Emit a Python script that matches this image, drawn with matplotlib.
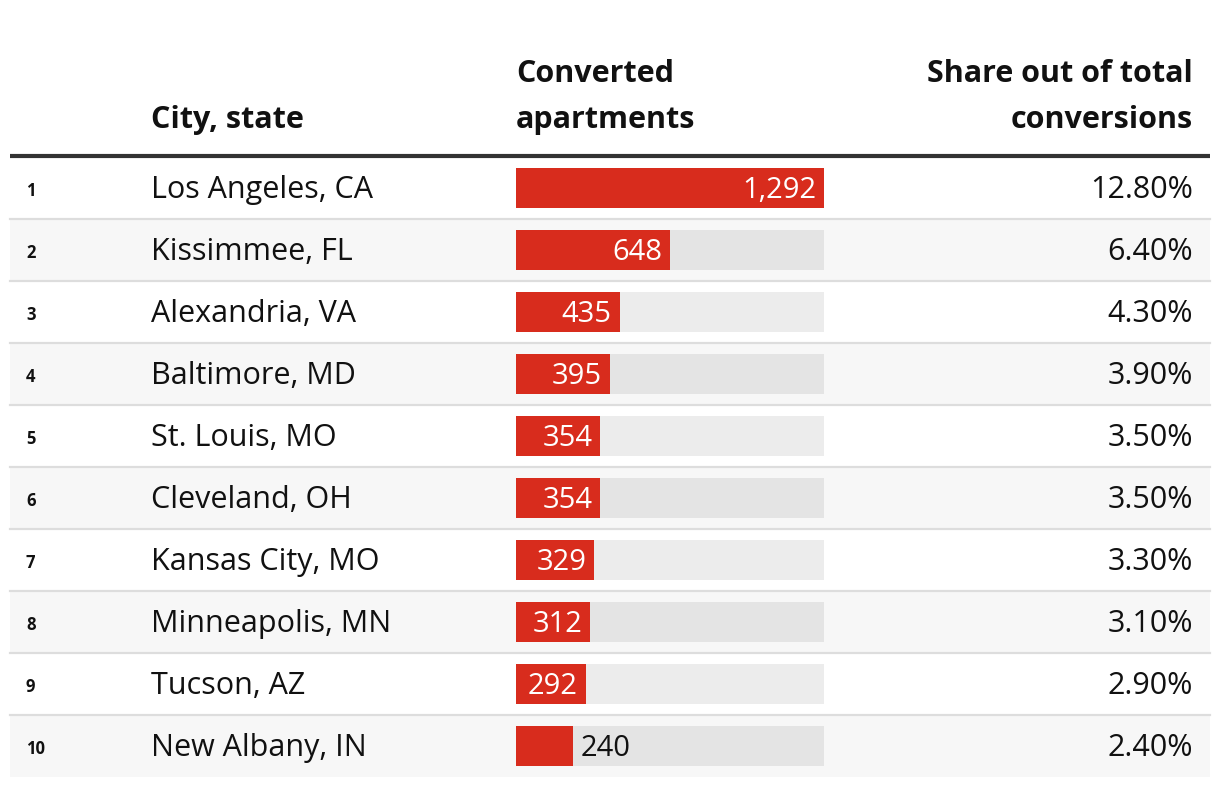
import matplotlib.pyplot as plt
import numpy as np

ranks = [1, 2, 3, 4, 5, 6, 7, 8, 9, 10]
cities = ['Los Angeles, CA', 'Kissimmee, FL', 'Alexandria, VA', 'Baltimore, MD',
          'St. Louis, MO', 'Cleveland, OH', 'Kansas City, MO', 'Minneapolis, MN',
          'Tucson, AZ', 'New Albany, IN']
converted = [1292, 648, 435, 395, 354, 354, 329, 312, 292, 240]
share = [12.8, 6.4, 4.3, 3.9, 3.5, 3.5, 3.3, 3.1, 2.9, 2.4]

plt.rcParams['font.family'] = ['Open Sans', 'DejaVu Sans']

W, H = 1220, 786
RED = '#d82c1d'
TEXT = '#111111'
FS = 22
top = 157
row_h = 62
n = len(cities)

fig = plt.figure(figsize=(W / 100, H / 100), dpi=100)
ax = fig.add_axes([0, 0, 1, 1])
ax.set_xlim(0, W)
ax.set_ylim(H, 0)
ax.axis('off')

# header
hd = dict(fontsize=FS, fontweight='bold', color=TEXT, va='baseline')
ax.text(151, 128, 'City, state', **hd)
ax.text(516, 82, 'Converted', **hd)
ax.text(516, 128, 'apartments', **hd)
ax.text(1193, 82, 'Share out of total', ha='right', **hd)
ax.text(1193, 128, 'conversions', ha='right', **hd)
ax.plot([10, 1210], [155.5, 155.5], color='#333333', lw=3, solid_capstyle='butt')

# rows
for i in range(n):
    y0 = top + i * row_h
    if i % 2 == 1:
        ax.add_patch(plt.Rectangle((10, y0), 1200, row_h, color='#f7f7f7', lw=0, zorder=0))
    if i < n - 1:
        ax.plot([10, 1210], [y0 + row_h - 0.5, y0 + row_h - 0.5], color='#dddddd', lw=1.6,
                zorder=1)
    yc = y0 + row_h / 2
    ax.text(26, yc + 8, str(ranks[i]), fontsize=12, fontweight='bold', color=TEXT,
            va='baseline')
    ax.text(151, yc + 10, cities[i], fontsize=FS, color=TEXT, va='baseline')
    ax.text(1193, yc + 10, f'{share[i]:.2f}%', fontsize=FS, color=TEXT, va='baseline',
            ha='right')

# bars
bx = fig.add_axes([516 / W, 1 - (top + n * row_h) / H, 308 / W, n * row_h / H])
bx.patch.set_alpha(0)
bx.set_xlim(0, max(converted))
bx.set_ylim(n - 0.5, -0.5)
bx.axis('off')
ypos = np.arange(n)
bx.barh(ypos, [max(converted)] * n, height=40 / row_h, color='black', alpha=0.075, lw=0)
bx.barh(ypos, converted, height=40 / row_h, color=RED, lw=0)
for i, v in enumerate(converted):
    if v / max(converted) > 0.2:
        bx.annotate(f'{v:,}', (v, i), xytext=(-8, -10), textcoords='offset pixels',
                    ha='right', va='baseline', fontsize=21, color='white')
    else:
        bx.annotate(f'{v:,}', (v, i), xytext=(7, -10), textcoords='offset pixels',
                    ha='left', va='baseline', fontsize=21, color=TEXT)

fig.savefig('out.png', dpi=100)
